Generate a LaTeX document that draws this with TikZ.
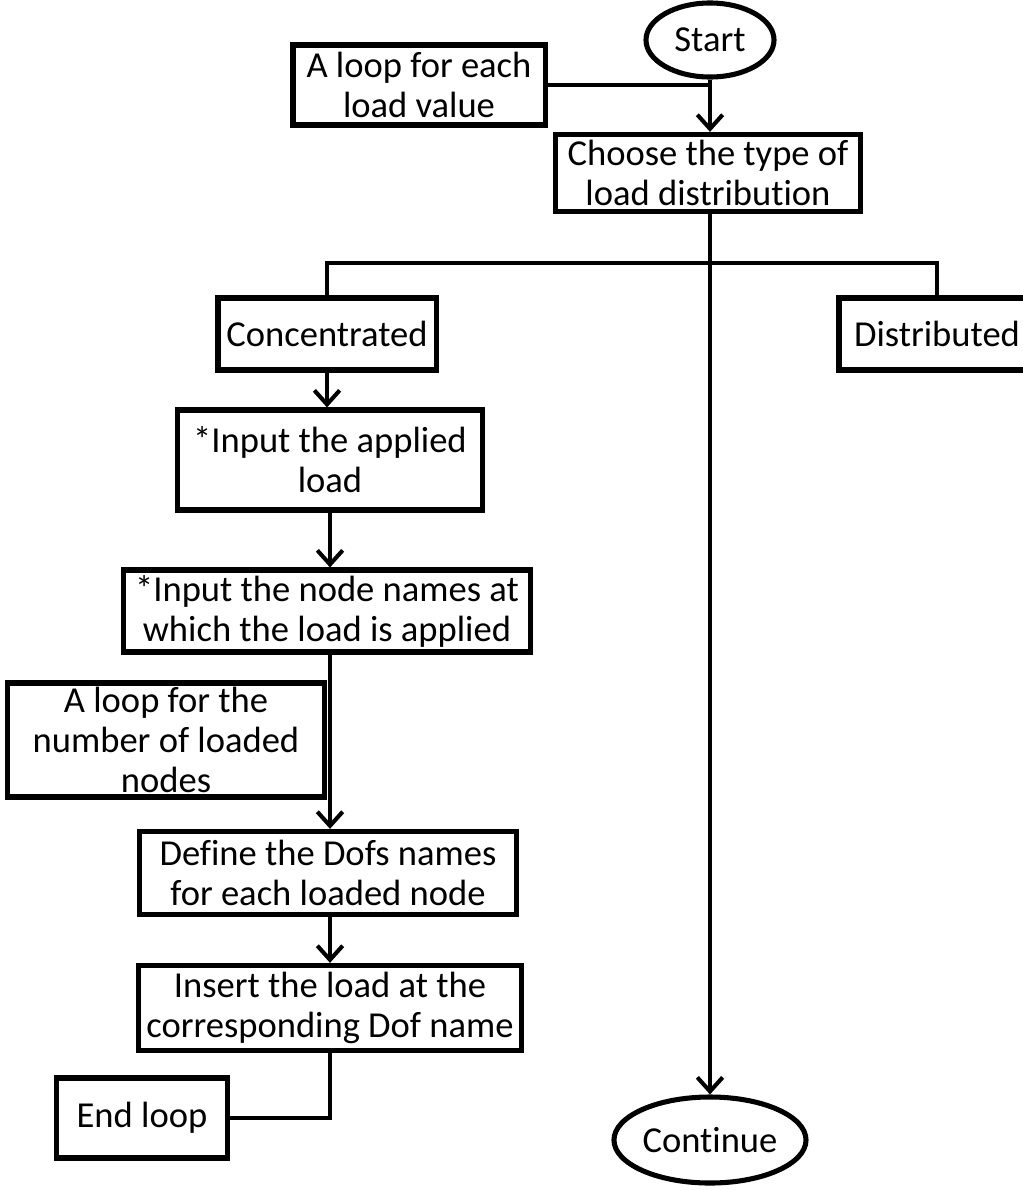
\documentclass[tikz,border=0pt]{standalone}
\usepackage{fontspec}
\setmainfont{Carlito}[Ligatures=NoCommon]
\usetikzlibrary{arrows.meta,shapes.geometric}
\begin{document}
\begin{tikzpicture}[x=0.025cm,y=-0.025cm,
  every node/.style={font=\fontsize{26}{28.5}\selectfont, align=center, inner sep=0pt},
  box/.style={draw, rectangle, line width=3.6pt},
  oval/.style={draw, ellipse, line width=3.6pt},
  link/.style={line width=2.9pt},
  flow/.style={link, -{Straight Barb[length=10pt,width=18pt,line width=2.9pt]}}
]
\useasboundingbox (0,0) rectangle (1023,1190);

% start / end terminals
\node[oval, minimum width=3.2cm, minimum height=1.85cm] (start) at (710,40) {Start};
\node[oval, minimum width=4.8cm, minimum height=2.15cm] (cont) at (710,1140) {Continue};

% upper part
\node[box, minimum width=6.3cm, minimum height=2.0cm] (loopA) at (419,85) {A loop for each\\load value};
\node[box, minimum width=7.6cm, minimum height=1.93cm] (choose) at (708,173) {Choose the type of\\load distribution};
\node[box, minimum width=5.45cm, minimum height=1.8cm] (conc) at (327,334) {Concentrated};
\node[box, minimum width=4.9cm, minimum height=1.8cm] (dist) at (937,334) {Distributed};
\coordinate (bus) at (710,263);

% concentrated branch
\node[box, minimum width=7.6cm, minimum height=2.5cm] (inA) at (330,460) {*Input the applied\\load};
\node[box, minimum width=10.15cm, minimum height=2.05cm] (inB) at (327,611) {*Input the node names at\\which the load is applied};
\node[box, minimum width=7.9cm, minimum height=2.85cm] (loopB) at (166,740) {A loop for the\\number of loaded\\nodes};
\node[box, minimum width=9.4cm, minimum height=2.08cm] (dofs) at (328,873) {Define the Dofs names\\for each loaded node};
\node[box, minimum width=9.55cm, minimum height=2.13cm] (ins) at (330,1008) {Insert the load at the\\corresponding Dof name};
\node[box, minimum width=4.28cm, minimum height=2.0cm] (endl) at (142,1118) {End loop};

% connectors
\draw[flow] (start.south) -- (start.south |- choose.north);
\draw[link] (loopA.east) -- (loopA.east -| start.south);
\draw[flow] (choose.south -| start.south) -- (cont.north);
\draw[link] (conc.north) |- (bus) -| (dist.north);
\draw[flow] (conc.south) -- (conc.south |- inA.north);
\draw[flow] (inA.south) -- (inA.south |- inB.north);
\draw[flow] (inA.south |- inB.south) -- (inA.south |- dofs.north);
\draw[flow] (inA.south |- dofs.south) -- (inA.south |- ins.north);
\draw[link] (ins.south) |- (endl.east);
\end{tikzpicture}
\end{document}
